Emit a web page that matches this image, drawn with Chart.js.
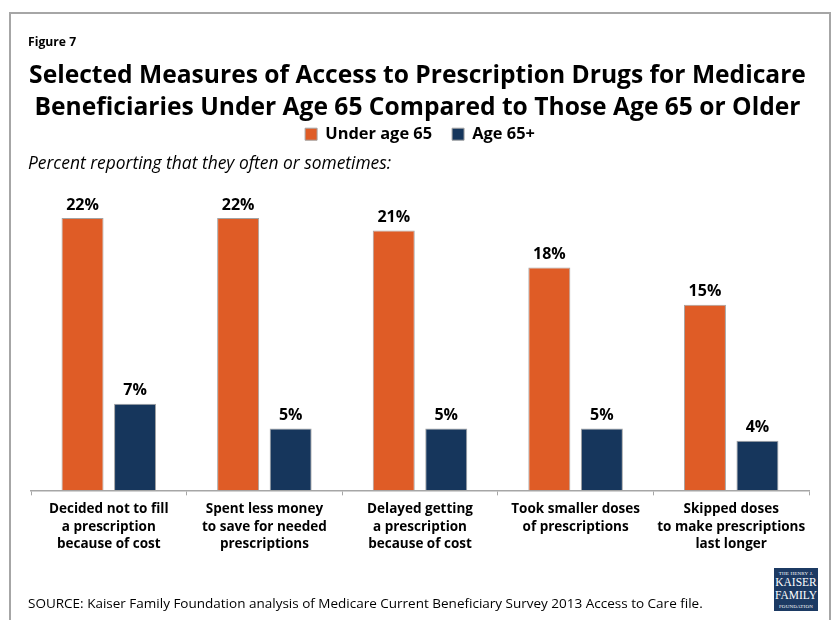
<!DOCTYPE html>
<html lang="en">
<head>
<meta charset="UTF-8" />
<meta name="viewport" content="width=device-width, initial-scale=1" />
<title>Figure 7</title>
<style>
  html, body { margin: 0; padding: 0; background: #fff; }
  body {
    width: 835px; height: 620px;
    position: relative; overflow: hidden;
    font-family: 'Open Sans', Lato, sans-serif;
    color: #000;
  }
  .frame {
    position: absolute; left: 9px; top: 12px;
    width: 822px; height: 660px;
    border: 2px solid #a6a6a6;
    box-sizing: border-box;
  }
  .chart-box { position: absolute; left: 0; top: 0; width: 835px; height: 620px; }
  .fig { position: absolute; left: 28px; top: 33px; font-size: 12.2px; font-weight: bold; }
  .title {
    position: absolute; left: 0; top: 58px; width: 835px;
    text-align: center; font-weight: bold;
    font-size: 24.6px; line-height: 32px;
  }
  .sub { position: absolute; left: 28px; top: 150px; font-size: 17.4px; font-style: italic; }
  .source { position: absolute; left: 28px; top: 594px; font-size: 13.5px; }
  .logo {
    position: absolute; left: 774px; top: 568px; width: 44px; height: 43px;
    background: #1c3a63; color: #fff;
    font-family: 'Liberation Serif', 'DejaVu Serif', serif;
    text-align: center; line-height: 1;
  }
  .logo .small { font-size: 5px; margin-top: 3px; letter-spacing: 0.2px; }
  .logo .big { font-size: 11.5px; margin-top: 1px; }
</style>
</head>
<body>

<div class="frame"></div>
<div class="chart-box"><canvas id="accessChart" width="835" height="620"></canvas></div>

<div class="fig">Figure 7</div>
<div class="title">Selected Measures of Access to Prescription Drugs for Medicare<br>Beneficiaries Under Age 65 Compared to Those Age 65 or Older</div>
<div class="sub">Percent reporting that they often or sometimes:</div>
<div class="source">SOURCE: Kaiser Family Foundation analysis of Medicare Current Beneficiary Survey 2013 Access to Care file.</div>
<div class="logo">
  <div class="small">THE HENRY J.</div>
  <div class="big">KAISER</div>
  <div class="big">FAMILY</div>
  <div class="small">FOUNDATION</div>
</div>

<script src="https://cdn.jsdelivr.net/npm/chart.js"></script>
<script>
  // Survey measures (x axis), each label split over lines
  const measures = [
    ['Decided not to fill', 'a prescription', 'because of cost'],
    ['Spent less money', 'to save for needed', 'prescriptions'],
    ['Delayed getting', 'a prescription', 'because of cost'],
    ['Took smaller doses', 'of prescriptions'],
    ['Skipped doses', 'to make prescriptions', 'last longer']
  ];

  // Percent reporting often or sometimes
  const under65 = [22, 22, 21, 18, 15];
  const age65plus = [7, 5, 5, 5, 4];

  const seriesNames = ['Under age 65', 'Age 65+'];

  // writes the percentage above each bar
  const valueLabels = {
    id: 'valueLabels',
    afterDatasetsDraw(chart) {
      const ctx = chart.ctx;
      ctx.save();
      ctx.font = 'bold 16px "Open Sans", sans-serif';
      ctx.fillStyle = '#000';
      ctx.textAlign = 'center';
      ctx.textBaseline = 'bottom';
      chart.data.datasets.forEach((ds, i) => {
        chart.getDatasetMeta(i).data.forEach((bar, j) => {
          ctx.fillText(ds.data[j] + '%', bar.x, bar.y - 5);
        });
      });
      ctx.restore();
    }
  };

  const ctx = document.getElementById('accessChart').getContext('2d');
  new Chart(ctx, {
    type: 'bar',
    data: {
      labels: measures,
      datasets: [
        {
          label: seriesNames[0],
          data: under65,
          backgroundColor: '#df5c26',
          borderColor: '#a3a3a3',
          borderWidth: 1
        },
        {
          label: seriesNames[1],
          data: age65plus,
          backgroundColor: '#16365c',
          borderColor: '#a3a3a3',
          borderWidth: 1
        }
      ]
    },
    options: {
      responsive: false,
      animation: false,
      categoryPercentage: 0.675,
      barPercentage: 0.8,
      layout: { padding: { top: 106, left: 31, right: 26, bottom: 62 } },
      plugins: {
        legend: {
          position: 'top',
          labels: {
            boxWidth: 12,
            boxHeight: 12,
            padding: 20,
            color: '#000',
            font: { family: 'Open Sans', size: 16.4, weight: 'bold' }
          }
        },
        tooltip: { enabled: false }
      },
      scales: {
        x: {
          offset: true,
          grid: {
            offset: true,
            drawOnChartArea: false,
            drawTicks: true,
            tickLength: 5,
            color: '#a6a6a6'
          },
          border: { display: true, color: '#a6a6a6', width: 1.5 },
          ticks: {
            color: '#000',
            padding: 5,
            maxRotation: 0,
            autoSkip: false,
            font: { family: 'Open Sans', size: 13.5, weight: 'bold', lineHeight: 1.3 }
          }
        },
        y: {
          display: false,
          min: 0,
          max: 27.3
        }
      }
    },
    plugins: [valueLabels]
  });
</script>
</body>
</html>
